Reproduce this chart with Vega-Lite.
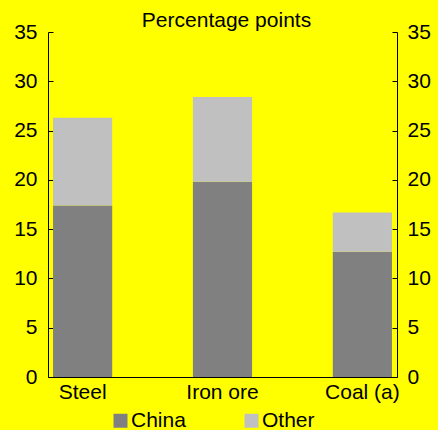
{
  "$schema": "https://vega.github.io/schema/vega-lite/v6.json",
  "autosize": "none",
  "width": 349,
  "height": 345,
  "padding": {"left": 48, "top": 32, "right": 41, "bottom": 53},
  "background": "#FFFF00",
  "config": {
    "view": {"stroke": null},
    "font": "Liberation Sans",
    "text": {"font": "Liberation Sans"}
  },
  "title": {
    "text": "Percentage points",
    "fontSize": 21,
    "fontWeight": "normal",
    "font": "Liberation Sans",
    "color": "black",
    "anchor": "middle",
    "offset": -10,
    "dx": 4
  },
  "data": {
    "values": [
      {"commodity": "Steel", "series": "China", "value": 17.4},
      {"commodity": "Steel", "series": "Other", "value": 8.9},
      {"commodity": "Iron ore", "series": "China", "value": 19.8},
      {"commodity": "Iron ore", "series": "Other", "value": 8.6},
      {"commodity": "Coal (a)", "series": "China", "value": 12.7},
      {"commodity": "Coal (a)", "series": "Other", "value": 4.0}
    ]
  },
  "encoding": {
    "x": {
      "field": "commodity",
      "type": "nominal",
      "sort": ["Steel", "Iron ore", "Coal (a)"],
      "scale": {"paddingInner": 0.577, "paddingOuter": 0.036},
      "axis": {
        "title": null,
        "labelAngle": 0,
        "labelFontSize": 21,
        "labelFont": "Liberation Sans",
        "labelColor": "black",
        "ticks": false,
        "domainColor": "black",
        "domainWidth": 1,
        "labelPadding": 4
      }
    }
  },
  "layer": [
    {
      "mark": {"type": "bar"},
      "encoding": {
        "y": {
          "field": "value",
          "type": "quantitative",
          "stack": "zero",
          "scale": {"domain": [0, 35], "nice": false},
          "axis": {
            "orient": "left",
            "title": null,
            "values": [0, 5, 10, 15, 20, 25, 30, 35],
            "grid": false,
            "tickSize": -5,
            "tickColor": "black",
            "domainColor": "black",
            "labelFontSize": 21,
            "labelFont": "Liberation Sans",
            "labelColor": "black",
            "labelPadding": 16
          }
        },
        "color": {
          "field": "series",
          "type": "nominal",
          "scale": {"domain": ["China", "Other"], "range": ["#808080", "#C0C0C0"]},
          "legend": {
            "title": null,
            "orient": "none",
            "direction": "horizontal",
            "columns": 2,
            "legendX": 62,
            "legendY": 378,
            "symbolType": "square",
            "symbolSize": 196,
            "symbolStrokeWidth": 0,
            "labelFontSize": 21,
            "labelFont": "Liberation Sans",
            "labelColor": "black",
            "labelOffset": 0,
            "columnPadding": 55
          }
        },
        "order": {"field": "series", "sort": "ascending"}
      }
    },
    {
      "mark": {"type": "bar", "opacity": 0},
      "encoding": {
        "y": {
          "field": "value",
          "type": "quantitative",
          "stack": "zero",
          "scale": {"domain": [0, 35], "nice": false},
          "axis": {
            "orient": "right",
            "title": null,
            "values": [0, 5, 10, 15, 20, 25, 30, 35],
            "grid": false,
            "tickSize": -5,
            "tickColor": "black",
            "domainColor": "black",
            "labelFontSize": 21,
            "labelFont": "Liberation Sans",
            "labelColor": "black",
            "labelPadding": 15
          }
        }
      }
    }
  ],
  "resolve": {"axis": {"y": "independent"}}
}
